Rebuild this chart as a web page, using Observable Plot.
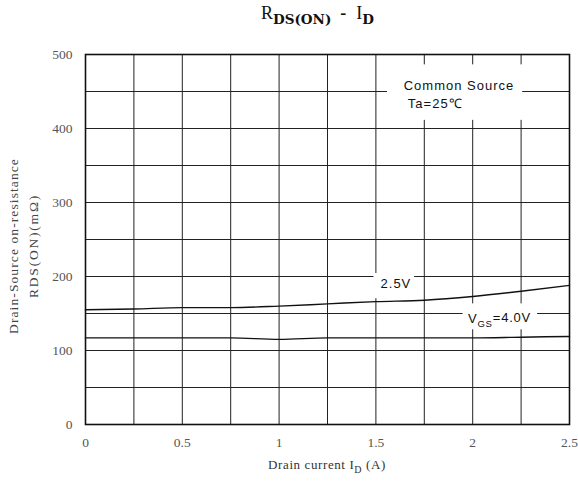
<!DOCTYPE html>
<html>
<head>
<meta charset="utf-8">
<script src="https://cdn.jsdelivr.net/npm/d3@7"></script>
<script src="https://cdn.jsdelivr.net/npm/@observablehq/plot@0.6"></script>
<style>
  body { margin: 0; background: #fff; }
  #wrap { position: relative; width: 578px; height: 486px; }
  #title { position: absolute; left: 261px; top: 3px; white-space: nowrap; line-height: 20px;
           font-family: "Liberation Serif", "DejaVu Serif", serif; font-size: 18px; color: #111; }
  #title .sub { font-family: "DejaVu Serif", serif; font-size: 13.5px; font-weight: bold; position: relative; top: 5px; }
  #title .dash { margin: 0 10px 0 9px; font-weight: bold; }
  #xlabel { position: absolute; left: 85px; width: 484px; top: 457px; text-align: center; letter-spacing: 0.6px;
            font-family: "Liberation Serif", "DejaVu Serif", serif; font-size: 13px; color: #333; }
  #xlabel sub { font-size: 10px; }
  #chart svg g[aria-label="text"] text { letter-spacing: 1px; }
</style>
</head>
<body>
<div id="wrap">
  <div id="chart"></div>
  <div id="title">R<span class="sub">DS(ON)</span><span class="dash">-</span>I<span class="sub">D</span></div>
  <div id="xlabel">Drain current I<sub>D</sub> (A)</div>
</div>
<script>
// Data
const currentA = [0, 0.25, 0.5, 0.75, 1.0, 1.25, 1.5, 1.75, 2.0, 2.25, 2.5];
const rds25V = [155, 156, 158, 158, 160, 163, 166, 168, 173, 180, 188];
const rds40V = [117, 117, 117, 117, 115, 117, 117, 117, 117, 118, 119];
const xTicks = [0, 0.5, 1, 1.5, 2, 2.5];
const yTicks = [0, 100, 200, 300, 400, 500];
const xGrid = [0, 0.25, 0.5, 0.75, 1, 1.25, 1.5, 1.75, 2, 2.25, 2.5];
const yGrid = [0, 50, 100, 150, 200, 250, 300, 350, 400, 450, 500];

const series = [
  ...currentA.map((x, i) => ({x, y: rds25V[i], s: "2.5V"})),
  ...currentA.map((x, i) => ({x, y: rds40V[i], s: "4.0V"}))
];

const serif = "'Liberation Serif', 'DejaVu Serif', serif";
const sans = "'Liberation Sans', Arial, sans-serif";

const chart = Plot.plot({
  width: 578,
  height: 486,
  marginLeft: 85,
  marginRight: 9,
  marginTop: 54,
  marginBottom: 62,
  style: {fontFamily: serif, fontSize: "12px", background: "#fff"},
  x: {domain: [0, 2.5]},
  y: {domain: [0, 500]},
  marks: [
    Plot.ruleX(xGrid, {stroke: "#222", strokeWidth: 1}),
    Plot.ruleY(yGrid, {stroke: "#222", strokeWidth: 1}),
    // white boxes behind annotations
    Plot.rect([{x1: 1.56, x2: 2.258, y1: 411, y2: 486}], {x1: "x1", x2: "x2", y1: "y1", y2: "y2", fill: "white"}),
    Plot.rect([{x1: 1.49, x2: 1.70, y1: 170, y2: 204}], {x1: "x1", x2: "x2", y1: "y1", y2: "y2", fill: "white"}),
    Plot.rect([{x1: 1.95, x2: 2.335, y1: 128, y2: 163}], {x1: "x1", x2: "x2", y1: "y1", y2: "y2", fill: "white"}),
    Plot.frame({stroke: "#111", strokeWidth: 1.6}),
    Plot.line(series, {x: "x", y: "y", z: "s", stroke: "#111", strokeWidth: 1.4, curve: "monotone-x"}),
    Plot.axisX(xTicks, {tickSize: 0, tickPadding: 13, tickFormat: d => String(d), fill: "#555", fontSize: 13.5, fontFamily: serif, label: null}),
    Plot.axisY(yTicks, {tickSize: 0, tickPadding: 13, fill: "#555", fontSize: 13.5, fontFamily: serif, label: null}),
    Plot.text(["Common Source"], {x: () => 1.929, y: () => 458, fontFamily: sans, fontSize: 13, fill: "#111"}),
    Plot.text(["Ta=25\u2103"], {x: () => 1.665, y: () => 433, textAnchor: "start", fontFamily: sans, fontSize: 13, fill: "#111"}),
    Plot.text(["2.5V"], {x: () => 1.524, y: () => 190.5, textAnchor: "start", fontFamily: sans, fontSize: 13, fill: "#111"})
  ]
});
document.getElementById("chart").appendChild(chart);

// VGS label with subscript, and y-axis label (two lines), using the chart scales
const svg = d3.select(chart);
const xs = chart.scale("x"), ys = chart.scale("y");
const vg = svg.append("text")
  .attr("x", xs.apply(1.978)).attr("y", ys.apply(142)).attr("dy", "0.35em").attr("text-anchor", "start")
  .attr("font-family", sans).attr("font-size", 13).attr("letter-spacing", 0.8).attr("fill", "#111");
vg.append("tspan").text("V");
vg.append("tspan").attr("font-size", 9.5).attr("dy", "0.35em").text("GS");
vg.append("tspan").attr("dy", "-0.35em").text("=4.0V");

const yl = svg.append("g").attr("font-family", serif).attr("font-size", 13.5).attr("fill", "#444")
  .attr("text-anchor", "middle");
yl.append("text").attr("transform", "translate(18,246) rotate(-90)").attr("letter-spacing", 1.1).text("Drain-Source on-resistance");
yl.append("text").attr("transform", "translate(38,246) rotate(-90)").attr("letter-spacing", 1.8).text("RDS(ON)(m\u03A9)");
</script>
</body>
</html>
